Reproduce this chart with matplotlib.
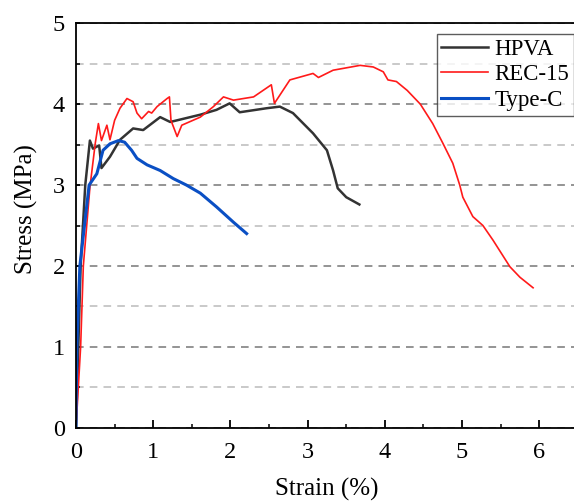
import matplotlib.pyplot as plt
from matplotlib.ticker import MultipleLocator

plt.rcParams['font.family'] = ['Liberation Serif', 'DejaVu Serif']

# stress-strain readings for the three specimens
hpva_strain = [0, 0.03, 0.06, 0.12, 0.18, 0.22, 0.30, 0.33, 0.44, 0.57, 0.74, 0.87,
               1.09, 1.22, 1.35, 1.61, 1.82, 1.99, 2.12, 2.47, 2.64, 2.81, 3.07,
               3.25, 3.33, 3.39, 3.50, 3.67]
hpva_stress = [0, 1.0, 2.0, 3.0, 3.55, 3.45, 3.49, 3.21, 3.35, 3.56, 3.70, 3.68,
               3.84, 3.78, 3.81, 3.87, 3.93, 4.01, 3.90, 3.95, 3.97, 3.89, 3.64,
               3.43, 3.18, 2.96, 2.85, 2.76]

rec_strain = [0, 0.06, 0.095, 0.18, 0.25, 0.29, 0.33, 0.40, 0.44, 0.50, 0.57, 0.66,
              0.74, 0.79, 0.85, 0.94, 0.98, 1.05, 1.18, 1.21, 1.23, 1.31, 1.37,
              1.61, 1.78, 1.91, 2.04, 2.30, 2.53, 2.57, 2.77, 3.07, 3.14, 3.33,
              3.68, 3.85, 3.98, 4.04, 4.15, 4.29, 4.46, 4.62, 4.75, 4.88, 4.97,
              5.01, 5.14, 5.27, 5.40, 5.62, 5.75, 5.92]
rec_stress = [0, 1.0, 2.0, 2.97, 3.52, 3.76, 3.55, 3.74, 3.56, 3.80, 3.95, 4.07,
              4.03, 3.89, 3.82, 3.91, 3.89, 3.97, 4.07, 4.09, 3.80, 3.60, 3.74,
              3.84, 3.97, 4.09, 4.05, 4.09, 4.24, 4.01, 4.30, 4.38, 4.33, 4.42,
              4.48, 4.46, 4.40, 4.30, 4.28, 4.17, 4.00, 3.76, 3.52, 3.27, 3.00,
              2.85, 2.61, 2.50, 2.32, 1.99, 1.86, 1.73]

typec_strain = [0, 0.01, 0.05, 0.17, 0.27, 0.35, 0.44, 0.55, 0.63, 0.72, 0.79, 0.92,
                1.09, 1.26, 1.43, 1.61, 1.82, 2.04, 2.21]
typec_stress = [0, 1.0, 2.0, 3.0, 3.14, 3.43, 3.51, 3.55, 3.53, 3.43, 3.33, 3.25,
                3.18, 3.08, 3.00, 2.90, 2.73, 2.54, 2.40]

fig = plt.figure(figsize=(5.74, 5.01), dpi=100)
ax = fig.add_axes([0.1324, 0.1463, 0.8676, 0.8072])

ax.plot(hpva_strain, hpva_stress, color='#333333', lw=1.8, label='HPVA')
ax.plot(rec_strain, rec_stress, color='#ff1a1a', lw=1.2, label='REC-15')
ax.plot(typec_strain, typec_stress, color='#0a4fc4', lw=2.2, label='Type-C')

ax.set_xlim(0, 6.45)
ax.set_ylim(0, 5)
ax.xaxis.set_major_locator(MultipleLocator(1))
ax.xaxis.set_minor_locator(MultipleLocator(0.5))
ax.yaxis.set_major_locator(MultipleLocator(1))
ax.yaxis.set_minor_locator(MultipleLocator(0.5))

ax.grid(which='major', axis='y', color='#777777', ls=(0, (5, 4)), lw=1.1)
ax.grid(which='minor', axis='y', color='#bbbbbb', ls=(0, (5, 4)), lw=1.1)
ax.set_axisbelow(True)

ax.tick_params(which='major', direction='in', length=6, width=1.3, labelsize=17.5)
ax.tick_params(which='minor', direction='in', length=3, width=1.1)
ax.tick_params(axis='x', which='major', pad=10)
ax.tick_params(axis='y', which='both', length=3, pad=8)

for side in ('left', 'bottom', 'top'):
    ax.spines[side].set_linewidth(1.3)
ax.spines['right'].set_visible(False)

ax.set_xlabel('Strain (%)', fontsize=18)
ax.set_ylabel('Stress (MPa)', fontsize=18)
ax.xaxis.set_label_coords(0.503, -0.125)
ax.yaxis.set_label_coords(-0.076, 0.54)

leg = ax.legend(loc='upper right', bbox_to_anchor=(0.999, 0.973), borderaxespad=0,
                fontsize=16.5, frameon=True, fancybox=False, edgecolor='#333333',
                handlelength=2.05, handletextpad=0.25, borderpad=0.2,
                labelspacing=0.2)
leg.get_frame().set_linewidth(1.0)

fig.savefig('out.png', dpi=100)
